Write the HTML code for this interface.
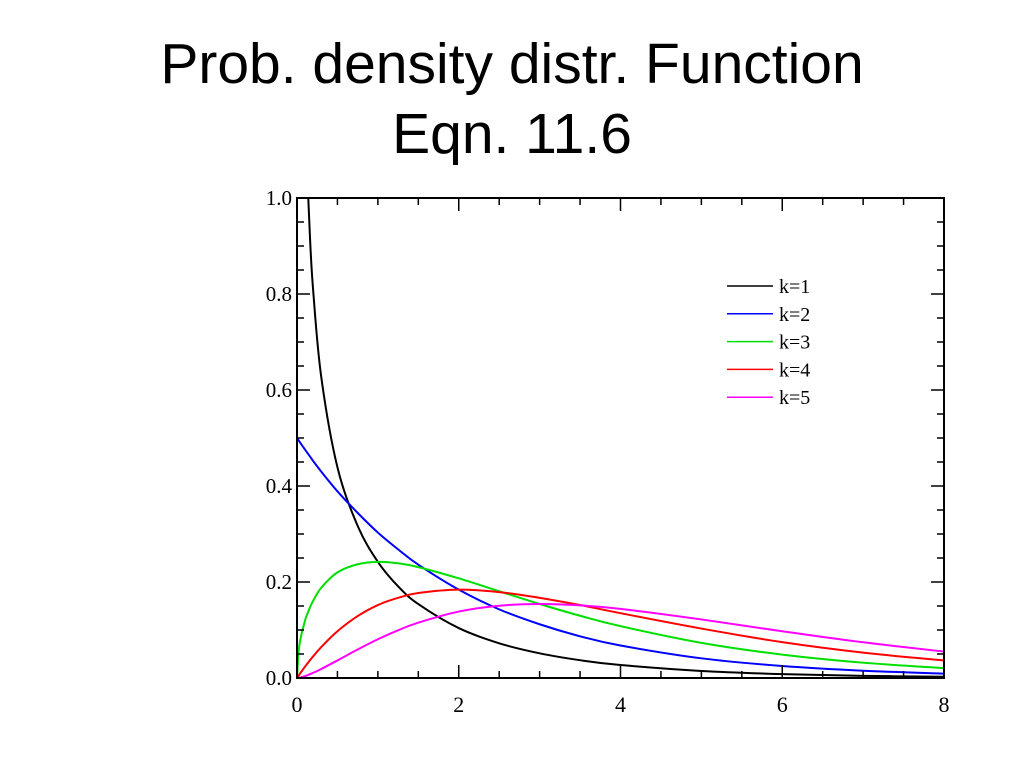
<!DOCTYPE html>
<html><head><meta charset="utf-8"><style>
body{margin:0;background:#fff;width:1024px;height:768px;overflow:hidden}
.t{position:absolute;left:0;width:1024px;text-align:center;font-family:"Liberation Sans",sans-serif;font-size:57px;color:#000;line-height:1}
</style></head><body>
<div class="t" style="top:36px">Prob. density distr. Function</div>
<div class="t" style="top:106px">Eqn. 11.6</div>
<svg id="c" width="1024" height="768" style="position:absolute;left:0;top:0"></svg>
<script>
const xs=[0,0.02,0.05,0.1,0.12,0.16,0.2,0.3,0.5,0.75,1,1.25,1.5,2,2.5,3,3.5,4,5,6,7,8];
const k1=[null,2.79,1.74,1.20,1.085,0.920,0.807,0.627,0.439,0.317,0.242,0.191,0.154,0.104,0.0723,0.0514,0.0371,0.0270,0.0146,0.0081,0.00455,0.00258];
const k2=[0.5,0.495,0.4877,0.4756,0.4709,0.4616,0.452,0.430,0.389,0.344,0.303,0.268,0.236,0.184,0.143,0.112,0.0869,0.0677,0.041,0.0249,0.0151,0.0092];
const k3=[0,0.0558,0.087,0.120,0.130,0.147,0.161,0.188,0.220,0.237,0.242,0.239,0.231,0.2076,0.1807,0.1542,0.1297,0.108,0.0732,0.0487,0.0319,0.0207];
const k4=[0,0.00495,0.0122,0.0238,0.0283,0.0369,0.0452,0.0645,0.0974,0.129,0.152,0.167,0.177,0.184,0.179,0.167,0.152,0.135,0.103,0.0747,0.0528,0.0366];
const k5=[0,0.00037,0.00145,0.0040,0.0052,0.00786,0.01076,0.0188,0.0366,0.0593,0.0807,0.0994,0.1153,0.1384,0.1506,0.1542,0.1513,0.1440,0.1220,0.0973,0.0744,0.0551];
const seriesNames=["k=1","k=2","k=3","k=4","k=5"];
const xTicks=[0,2,4,6,8];
const yTicks=[0.0,0.2,0.4,0.6,0.8,1.0];
const colors=["#000","#0000ff","#00e000","#ff0000","#ff00ff"];
const L=297,R=944,T=198,B=678;
const X=v=>L+(v/8)*(R-L), Y=v=>B-v*(B-T);
const svg=document.getElementById('c');const NS="http://www.w3.org/2000/svg";
function mk(t,a,p){const e=document.createElementNS(NS,t);for(const k in a)e.setAttribute(k,a[k]);(p||svg).appendChild(e);return e;}
const defs=mk('defs',{});const cp=mk('clipPath',{id:'cp'},defs);mk('rect',{x:L,y:T,width:R-L,height:B-T},cp);
const all=[k1,k2,k3,k4,k5];
all.forEach((ys,i)=>{
 const pts=[];xs.forEach((x,j)=>{if(ys[j]!==null)pts.push([X(x),Y(ys[j])]);});
 let d='M'+pts[0][0]+','+pts[0][1];
 for(let j=0;j<pts.length-1;j++){const p0=pts[Math.max(0,j-1)],p1=pts[j],p2=pts[j+1],p3=pts[Math.min(pts.length-1,j+2)];
  const c1=[p1[0]+(p2[0]-p0[0])/6,p1[1]+(p2[1]-p0[1])/6],c2=[p2[0]-(p3[0]-p1[0])/6,p2[1]-(p3[1]-p1[1])/6];
  d+=` C${c1[0]},${c1[1]} ${c2[0]},${c2[1]} ${p2[0]},${p2[1]}`;}
 const p=mk('path',{d:d,fill:'none',stroke:colors[i],'stroke-width':2,'clip-path':'url(#cp)'});
 
 
 const ly=286+i*27.8;
 const ll=mk('line',{x1:727,x2:773,y1:ly,y2:ly,stroke:colors[i],'stroke-width':1.5});
 
 
 const lt=mk('text',{x:779,y:ly+7,'font-family':'Liberation Serif, serif','font-size':20});
 lt.textContent=seriesNames[i];
 
 
});
const fr=mk('rect',{x:L,y:T,width:R-L,height:B-T,fill:'none',stroke:'#000','stroke-width':2});


for(let v=0;v<=8.001;v+=0.5){const x=X(v),maj=Math.abs(v/2-Math.round(v/2))<1e-6,h=maj?13:7;
 mk('line',{x1:x,x2:x,y1:B,y2:B-h,stroke:'#000','stroke-width':1.5});mk('line',{x1:x,x2:x,y1:T,y2:T+h,stroke:'#000','stroke-width':1.5});}
for(let v=0;v<=1.001;v+=0.05){const y=Y(v),maj=Math.abs(v/0.2-Math.round(v/0.2))<1e-6,h=maj?13:7;
 mk('line',{x1:L,x2:L+h,y1:y,y2:y,stroke:'#000','stroke-width':1.5});mk('line',{x1:R,x2:R-h,y1:y,y2:y,stroke:'#000','stroke-width':1.5});}
xTicks.forEach(v=>{const t=mk('text',{x:X(v),y:B+34,'text-anchor':'middle','font-family':'Liberation Serif, serif','font-size':22});t.textContent=v;
 
 });
yTicks.forEach(v=>{const t=mk('text',{x:L-5,y:Y(v)+7,'text-anchor':'end','font-family':'Liberation Serif, serif','font-size':21});t.textContent=v.toFixed(1);
 
 });
</script>
</body></html>
